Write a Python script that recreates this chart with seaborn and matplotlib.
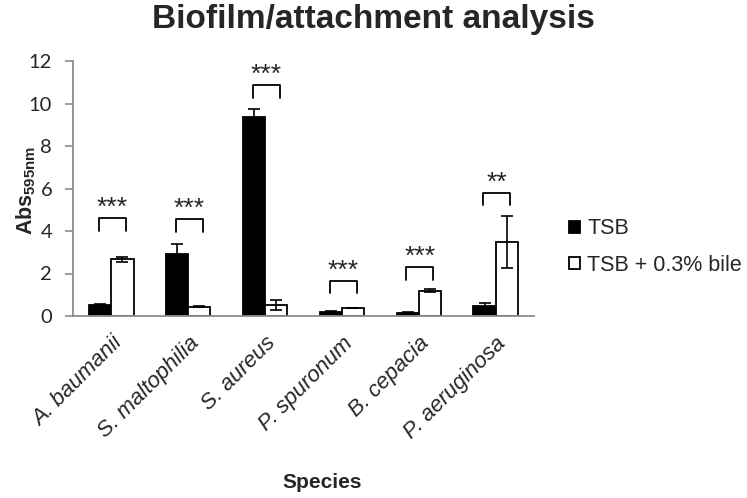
import pandas as pd
import numpy as np
import matplotlib
matplotlib.use("Agg")
import matplotlib.pyplot as plt
import seaborn as sns

# values
species = ['A. baumanii', 'S. maltophilia', 'S. aureus', 'P. spuronum', 'B. cepacia', 'P. aeruginosa']
media = ['TSB', 'TSB + 0.3% bile']
tsb = [0.53, 2.91, 9.36, 0.20, 0.16, 0.45]
tsb_err = [0.05, 0.46, 0.36, 0.03, 0.04, 0.15]
bile = [2.66, 0.44, 0.52, 0.38, 1.20, 3.49]
bile_err = [0.13, 0.03, 0.24, 0.02, 0.06, 1.21]
bracket_top = [4.60, 4.55, 10.85, 1.66, 2.29, 5.79]
stars = ['***', '***', '***', '***', '***', '**']

df = pd.DataFrame({
    'Species': species * 2,
    'Medium': [media[0]] * len(species) + [media[1]] * len(species),
    'Abs': tsb + bile,
})

sns.set_style('white')
plt.rcParams['font.family'] = ['Liberation Sans', 'DejaVu Sans']
plt.rcParams['mathtext.fontset'] = 'custom'
plt.rcParams['mathtext.rm'] = 'Liberation Sans:bold'
plt.rcParams['mathtext.default'] = 'rm'

fig = plt.figure(figsize=(7.47, 4.98), dpi=100)
ax = fig.add_axes([73 / 747, 1 - 316 / 498, 461 / 747, 255 / 498])

sns.barplot(data=df, x='Species', y='Abs', hue='Medium', order=species, hue_order=media,
            palette={media[0]: 'black', media[1]: 'white'}, edgecolor='black', linewidth=1.3,
            width=0.575, gap=0, errorbar=None, ax=ax)

# error bars at the bar centres
for cont, errs in zip(ax.containers, [tsb_err, bile_err]):
    xs = [b.get_x() + b.get_width() / 2 for b in cont]
    ys = [b.get_height() for b in cont]
    ax.errorbar(xs, ys, yerr=errs, fmt='none', ecolor='black', elinewidth=1.2,
                capsize=4, capthick=1.2, zorder=5)

# significance brackets
for i, (top, s) in enumerate(zip(bracket_top, stars)):
    x0, x1 = i - 0.16, i + 0.19
    ax.plot([x0, x0, x1, x1], [top - 0.58, top, top, top - 0.58], color='black', lw=1.3)
    ax.text((x0 + x1) / 2, top + 0.15, s, ha='center', va='baseline', fontsize=19)

ax.set_xlim(-0.5, 5.5)
ax.set_ylim(0, 12)
ax.set_yticks(range(0, 13, 2))
ax.set_yticklabels([str(v) for v in range(0, 13, 2)], fontsize=14.5, family='Lato')
ax.set_xticks(range(len(species)))
ax.set_xticklabels(species, rotation=45, ha='right', rotation_mode='anchor',
                   fontstyle='italic', fontsize=16)
ax.tick_params(axis='x', length=0, pad=12)
ax.tick_params(axis='y', length=6, width=1.2, color='#8c8c8c', direction='out', pad=9, left=True)
for side in ['top', 'right']:
    ax.spines[side].set_visible(False)
for side in ['left', 'bottom']:
    ax.spines[side].set_color('#8c8c8c')
    ax.spines[side].set_linewidth(1.3)
ax.set_xlabel('')
ax.set_ylabel('')

fig.text(0.5, 1 - 28 / 498, 'Biofilm/attachment analysis', ha='center', va='baseline',
         fontsize=24, fontweight='bold')
fig.text(26 / 747, 1 - 190 / 498, r'Abs$_{595nm}$', rotation=90, ha='center', va='center',
         fontsize=15.5, fontweight='bold')
fig.text(322 / 747, 1 - 488 / 498, 'Species', ha='center', va='baseline',
         fontsize=15, fontweight='bold')

handles, labels = ax.get_legend_handles_labels()
ax.legend(handles, labels, loc='center left', bbox_to_anchor=(569 / 747, 1 - 247 / 498),
          bbox_transform=fig.transFigure, frameon=False, fontsize=15.5, borderpad=0,
          borderaxespad=0, handlelength=0.5, handleheight=0.5, handletextpad=0.35,
          labelspacing=0.7)

fig.savefig('out.png', dpi=100)
